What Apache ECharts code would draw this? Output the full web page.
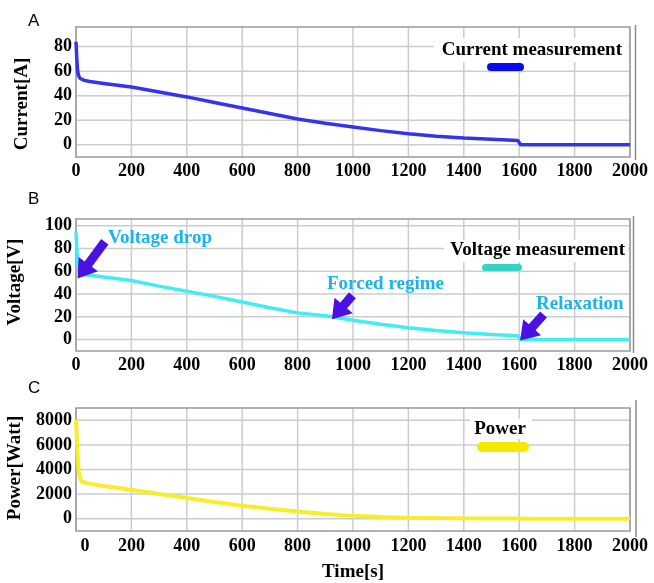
<!DOCTYPE html>
<html>
<head>
<meta charset="utf-8">
<script src="https://cdn.jsdelivr.net/npm/echarts@6.0.0/dist/echarts.min.js"></script>
<style>
  html, body { margin: 0; padding: 0; background: #fff; }
  #chart { width: 654px; height: 583px; }
</style>
</head>
<body>
<div id="chart"></div>
<script>
// time samples [s], shared by the three traces
const timeSec = [0, 3, 6, 10, 15, 20, 30, 50, 100, 200, 300, 400, 500, 600, 700, 800, 900, 1000, 1100, 1200, 1300, 1400, 1500, 1595, 1605, 1700, 1800, 1900, 2000]
const currentA = [84, 70, 60, 56, 54, 53, 52.5, 51.5, 50, 47, 43, 39, 34.5, 30, 25.5, 21, 17.5, 14.5, 11.5, 9, 7, 5.5, 4.5, 3.5, 0, 0, 0, 0, 0]
const voltageV = [95, 80, 68, 61, 58.5, 57.5, 57, 56.5, 55, 52, 47, 42.5, 38, 33, 28, 23.5, 21, 17, 13.5, 10.5, 8, 6, 4.5, 3.5, 0, 0, 0, 0, 0]
const powerW = [8050, 6500, 5000, 3800, 3250, 3050, 2950, 2850, 2650, 2350, 2000, 1680, 1350, 1050, 800, 580, 380, 230, 140, 80, 50, 35, 25, 20, 0, 0, 0, 0, 0]

const timeTicks = [0, 200, 400, 600, 800, 1000, 1200, 1400, 1600, 1800, 2000]
const currentTicks = [0, 20, 40, 60, 80]
const voltageTicks = [0, 20, 40, 60, 80, 100]
const powerTicks = [0, 2000, 4000, 6000, 8000]

// annotation arrows on panel B: [tail time, tail V, tip time, tip V]
const arrows = [
  [104, 86, 25, 60],
  [998, 39, 945, 24],
  [1688, 22, 1625, 5],
]

const serif = '"Liberation Serif", "DejaVu Serif", serif'
const lineGrey = '#cccccc'
const frameColor = '#9a9a9a'

const chart = echarts.init(document.getElementById('chart'))

function pair(xs, ys) {
  return xs.map((x, i) => [x, ys[i]])
}

const tickFont = {
  color: '#000',
  fontFamily: serif,
  fontWeight: 'bold',
  fontSize: 18,
}

function xAxisFor(idx, extra) {
  return Object.assign({
    type: 'value',
    gridIndex: idx,
    min: 0,
    max: 2000,
    interval: 200,
    axisLine: { show: false },
    axisTick: { show: false },
    splitLine: { show: false },
    axisLabel: Object.assign({ margin: 5, formatter: v => String(v) }, tickFont),
  }, extra || {})
}

function yAxisFor(idx, min, max, step, ticks) {
  return {
    type: 'value',
    gridIndex: idx,
    min: min,
    max: max,
    interval: step,
    axisLine: { show: false },
    axisTick: { show: false },
    splitLine: { show: false },
    axisLabel: Object.assign({
      margin: 4,
      formatter: v => (ticks.indexOf(v) >= 0 ? String(v) : ''),
    }, tickFont),
  }
}

const yAxes = [
  yAxisFor(0, -10, 96, 10, currentTicks),
  yAxisFor(1, -10, 106, 10, voltageTicks),
  yAxisFor(2, -1000, 9000, 1000, powerTicks),
]

const grids = [
  { left: 76, right: 24, top: 27, height: 130 },
  { left: 76, right: 24, top: 219, height: 132 },
  { left: 76, right: 24, top: 408, height: 129 },
]

function txt(text, x, y, opts) {
  return {
    type: 'text',
    x: x,
    y: y,
    z: 100,
    rotation: (opts && opts.rotation) || 0,
    style: Object.assign({
      text: text,
      fill: '#000',
      font: 'bold 19px ' + serif,
      textAlign: 'left',
      textVerticalAlign: 'middle',
    }, (opts && opts.style) || {}),
  }
}

function rect(x, y, w, h, fill, r, z) {
  return {
    type: 'rect',
    z: z || 100,
    shape: { x: x, y: y, width: w, height: h, r: r || 0 },
    style: { fill: fill },
  }
}

function seg(x1, y1, x2, y2, color, z) {
  return {
    type: 'line',
    z: z,
    silent: true,
    shape: { x1: x1, y1: y1, x2: x2, y2: y2 },
    style: { stroke: color, lineWidth: 1.5 },
  }
}

const noteStyle = { fill: '#1ab2f0' }
const letterFont = '17px "Liberation Sans", Arial, sans-serif'

const decorations = [
  // panel letters
  txt('A', 28, 21, { style: { font: letterFont } }),
  txt('B', 28, 199, { style: { font: letterFont } }),
  txt('C', 28, 388, { style: { font: letterFont } }),
  // y-axis titles
  txt('Current[A]', 22, 104, { rotation: Math.PI / 2, style: { textAlign: 'center' } }),
  txt('Voltage[V]', 15, 282, { rotation: Math.PI / 2, style: { textAlign: 'center' } }),
  txt('Power[Watt]', 15, 468, { rotation: Math.PI / 2, style: { textAlign: 'center' } }),
  // legends
  rect(434, 38, 194, 24, '#fff', 0, 90),
  txt('Current measurement', 622, 50, { style: { textAlign: 'right' } }),
  rect(487, 63, 37, 8, '#0a0af2', 4),
  rect(444, 240, 184, 22, '#fff', 0, 90),
  txt('Voltage measurement', 625, 250, { style: { textAlign: 'right' } }),
  rect(482, 264, 40, 7, '#33d3c6', 3.5),
  rect(470, 419, 62, 20, '#fff', 0, 90),
  txt('Power', 500, 429, { style: { textAlign: 'center' } }),
  rect(477, 442, 52, 10, '#f6e800', 5),
  // annotations
  txt('Voltage drop', 108, 238, { style: noteStyle }),
  txt('Forced regime', 327, 284, { style: noteStyle }),
  txt('Relaxation', 536, 304, { style: noteStyle }),
  // outer frame edges on the right
  seg(635.5, 25, 635.5, 160, '#8c8c8c', 100),
  seg(633.5, 216, 633.5, 353, '#8c8c8c', 100),
  seg(636, 400, 636, 537, '#8c8c8c', 100),
]

const option = {
  backgroundColor: '#fff',
  animation: false,
  grid: grids,
  xAxis: [
    xAxisFor(0),
    xAxisFor(1),
    xAxisFor(2, {
      name: 'Time[s]',
      nameLocation: 'middle',
      nameGap: 32,
      nameTextStyle: { color: '#000', fontFamily: serif, fontWeight: 'bold', fontSize: 19 },
      axisLabel: Object.assign({
        margin: 6,
        formatter: v => (v === 0 ? '{z|0}' : String(v)),
        rich: { z: Object.assign({ padding: [0, 0, 0, 18] }, tickFont) },
      }, tickFont),
    }),
  ],
  yAxis: yAxes,
  series: [
    {
      name: 'Current measurement',
      type: 'line',
      xAxisIndex: 0,
      yAxisIndex: 0,
      data: pair(timeSec, currentA),
      showSymbol: false,
      lineStyle: { color: '#3434ee', width: 3.5 },
    },
    {
      name: 'Voltage measurement',
      type: 'line',
      xAxisIndex: 1,
      yAxisIndex: 1,
      data: pair(timeSec, voltageV),
      showSymbol: false,
      lineStyle: { color: '#40eef2', width: 3.5 },
      markLine: {
        silent: true,
        symbol: ['none', 'triangle'],
        symbolSize: [24, 18],
        label: { show: false },
        lineStyle: { color: '#4b10e2', width: 9, type: 'solid', opacity: 1 },
        itemStyle: { color: '#4b10e2' },
        data: arrows.map(a => [
          { coord: [a[0], a[1]] },
          { coord: [a[2], a[3]] },
        ]),
      },
    },
    {
      name: 'Power',
      type: 'line',
      xAxisIndex: 2,
      yAxisIndex: 2,
      data: pair(timeSec, powerW),
      showSymbol: false,
      lineStyle: { color: '#f6ee2a', width: 4 },
    },
  ],
  graphic: { elements: decorations },
}

chart.setOption(option)

// grid lines and frames placed through each panel's own x and y axes
const gridSegs = []
const panelTicks = [currentTicks, voltageTicks, powerTicks]
panelTicks.forEach((yTicks, i) => {
  const finder = { xAxisIndex: i, yAxisIndex: i }
  const ax = yAxes[i]
  const lo = chart.convertToPixel(finder, [0, ax.min])
  const hi = chart.convertToPixel(finder, [2000, ax.max])
  timeTicks.forEach(t => {
    const p = chart.convertToPixel(finder, [t, ax.min])
    gridSegs.push(seg(p[0], hi[1], p[0], lo[1], lineGrey, 1))
  })
  yTicks.forEach(v => {
    const p = chart.convertToPixel(finder, [0, v])
    gridSegs.push(seg(lo[0], p[1], hi[0], p[1], lineGrey, 1))
  })
  gridSegs.push({
    type: 'rect',
    z: 1,
    silent: true,
    shape: { x: lo[0], y: hi[1], width: hi[0] - lo[0], height: lo[1] - hi[1] },
    style: { fill: 'none', stroke: frameColor, lineWidth: 1.5 },
  })
})

chart.setOption({ graphic: { elements: decorations.concat(gridSegs) } })
</script>
</body>
</html>
